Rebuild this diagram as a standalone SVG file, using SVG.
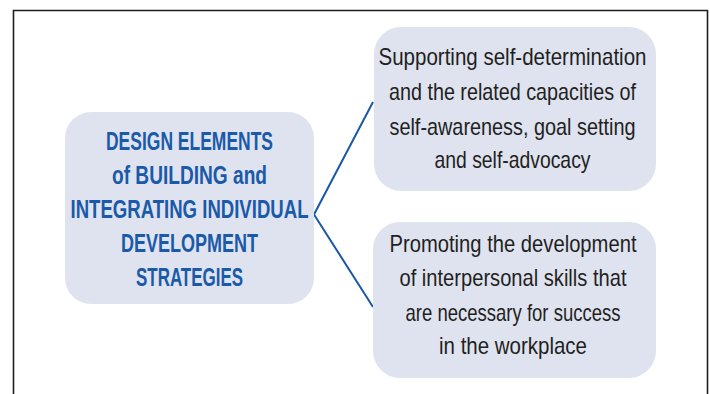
<svg xmlns="http://www.w3.org/2000/svg" width="710" height="394" viewBox="0 0 710 394">
  <style>
    .frame { fill: none; stroke: #1e1e1e; stroke-width: 1.6; }
    .box { fill: #dfe3f0; }
    .link { fill: none; stroke: #1a58a6; stroke-width: 2; stroke-linejoin: miter; }
    .title { font-family: "Liberation Sans", Arial, sans-serif; font-weight: bold; font-size: 26px; fill: #1a5aa8; text-anchor: middle; }
    .body { font-family: "Liberation Sans", Arial, sans-serif; font-size: 24px; fill: #231f20; text-anchor: middle; }
  </style>

  <!-- open frame: left, top and right edges -->
  <path class="frame" d="M13.5 394 V10.5 H707.5 V394"/>

  <!-- connectors from the central node to the two branches -->
  <g id="connectors">
    <path class="link" d="M373 102 L314 214.5 L373 307"/>
  </g>

  <g id="node-main">
    <rect class="box" x="65" y="112" width="249" height="192" rx="26" ry="26"/>
    <text class="title" x="189.5" y="150" textLength="167" lengthAdjust="spacingAndGlyphs">DESIGN ELEMENTS</text>
    <text class="title" x="189.5" y="184" textLength="155" lengthAdjust="spacingAndGlyphs">of BUILDING and</text>
    <text class="title" x="189.5" y="218" textLength="238" lengthAdjust="spacingAndGlyphs">INTEGRATING INDIVIDUAL</text>
    <text class="title" x="189.5" y="252" textLength="137" lengthAdjust="spacingAndGlyphs">DEVELOPMENT</text>
    <text class="title" x="189.5" y="286" textLength="107" lengthAdjust="spacingAndGlyphs">STRATEGIES</text>
  </g>

  <g id="node-self-determination">
    <rect class="box" x="374" y="27" width="282" height="164" rx="27" ry="27"/>
    <text class="body" x="512.5" y="65" textLength="268" lengthAdjust="spacingAndGlyphs">Supporting self-determination</text>
    <text class="body" x="512.5" y="100" textLength="247" lengthAdjust="spacingAndGlyphs">and the related capacities of</text>
    <text class="body" x="512.5" y="135" textLength="246" lengthAdjust="spacingAndGlyphs">self-awareness, goal setting</text>
    <text class="body" x="512.5" y="168" textLength="156" lengthAdjust="spacingAndGlyphs">and self-advocacy</text>
  </g>

  <g id="node-interpersonal">
    <rect class="box" x="373" y="222" width="283" height="156" rx="27" ry="27"/>
    <text class="body" x="513" y="252" textLength="247" lengthAdjust="spacingAndGlyphs">Promoting the development</text>
    <text class="body" x="513" y="286" textLength="227" lengthAdjust="spacingAndGlyphs">of interpersonal skills that</text>
    <text class="body" x="513" y="321" textLength="215" lengthAdjust="spacingAndGlyphs">are necessary for success</text>
    <text class="body" x="513" y="354" textLength="148" lengthAdjust="spacingAndGlyphs">in the workplace</text>
  </g>
</svg>
